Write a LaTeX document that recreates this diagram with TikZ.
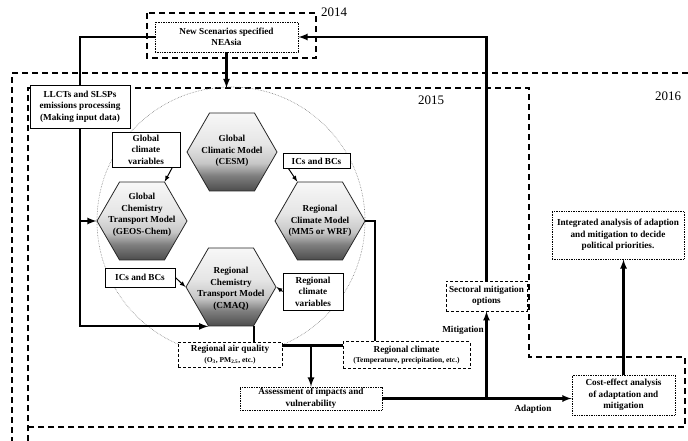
\documentclass[tikz,border=0pt]{standalone}
\usepackage{fontspec}
\setmainfont{Liberation Serif}
\usetikzlibrary{shapes.geometric, calc}

% заливка шестиугольников: снизу темнее
\pgfdeclareverticalshading{hexshade}{100bp}{color(0bp)=(black!70); color(25bp)=(black!70); color(35bp)=(black!50); color(43bp)=(black!22); color(55bp)=(black!10); color(75bp)=(black!3); color(100bp)=(black!3)}

\begin{document}
\begin{tikzpicture}[
        x=1pt, y=-1pt, % координаты в пикселях, ось y вниз
        font=\fontsize{9.2}{11.5}\selectfont\bfseries,
        hexa/.style={regular polygon, regular polygon sides=6, minimum size=90pt, inner sep=0pt,
                draw=black!85, line width=0.8pt, shading=hexshade}, % модели
        hextext/.style={align=center, inner sep=0pt},
        cell/.style={draw, align=center, fill=white, inner sep=1.5pt, line width=0.7pt}, % блоки
        dcell/.style={cell, densely dashed},
        pcell/.style={cell, densely dotted, line width=0.9pt},
        link/.style={draw, line width=2.1pt},
        linkarrow/.style={link, -latex},
        thinarrow/.style={draw, line width=1pt, -latex},
        zone/.style={draw, dash pattern=on 6pt off 4pt, line width=1.2pt}, % этапы по годам
        year/.style={font=\fontsize{13}{13}\selectfont},
    ]
    \useasboundingbox (0,0) rectangle (688,441);

    % этапы
    \draw[zone] (147,13) rectangle (316,58);
    \draw[zone] (688,73) -- (12,73) -- (12,441);
    \draw[zone] (28,441) -- (28,88) -- (529,88) -- (529,357) -- (685,357) -- (685,427) -- (28,427);
    \node[year] (y14) at (334,12) {2014};
    \node[year] (y15) at (431,100) {2015};
    \node[year] (y16) at (668,96) {2016};

    \draw[densely dotted, black!50, line width=0.6pt] (231,221) circle[radius=134pt];

    % модели
    \node[hexa] (cesm) at (232,152) {};
    \node[hextext] (cesm-t) at (232,151) {Global\\Climatic Model\\(CESM)};
    \node[hexa] (geos) at (142,221) {};
    \node[hextext] (geos-t) at (142,215) {Global\\Chemistry\\Transport Model\\(GEOS-Chem)};
    \node[hexa] (wrf) at (320,221) {};
    \node[hextext] (wrf-t) at (320,221) {Regional\\Climate Model\\(MM5 or WRF)};
    \node[hexa] (cmaq) at (231,287) {};
    \node[hextext] (cmaq-t) at (231,289) {Regional\\Chemistry\\Transport Model\\(CMAQ)};

    % блоки
    \node[pcell, minimum width=143pt, minimum height=30pt] (nsc) at (226.5,37) {New Scenarios specified\\NEAsia};
    \node[cell, minimum width=100pt, minimum height=43pt] (llct) at (80,106.5) {LLCTs and SLSPs\\emissions processing\\(Making input data)};
    \node[cell, minimum width=68pt, minimum height=35pt] (gcv) at (146,149.5) {Global\\climate\\variables};
    \node[cell, minimum width=67pt, minimum height=15pt] (icu) at (316.5,161) {ICs and BCs};
    \node[cell, minimum width=70pt, minimum height=19pt] (icl) at (140,277.5) {ICs and BCs};
    \node[cell, minimum width=60pt, minimum height=37pt] (rcv) at (313,291.5) {Regional\\climate\\variables};
    \node[dcell, minimum width=104pt, minimum height=25pt] (aq) at (230,354.5)
        {Regional air quality\\[-1pt]{\fontsize{7.5}{9}\selectfont (O\textsubscript{3}, PM\textsubscript{2.5}, etc.)}};
    \node[dcell, minimum width=127pt, minimum height=27pt] (rcl) at (406.5,355)
        {Regional climate\\[-1pt]{\fontsize{7.5}{9}\selectfont (Temperature, precipitation, etc.)}};
    \node[pcell, minimum width=142pt, minimum height=23pt] (asm) at (311,398.5) {Assessment of impacts and\\vulnerability};
    \node[dcell, minimum width=81pt, minimum height=30pt] (sec) at (486.5,296) {Sectoral mitigation\\options};
    \node[pcell, minimum width=103pt, minimum height=40pt] (cost) at (623.5,395) {Cost-effect analysis\\of adaptation and\\mitigation};
    \node[pcell, minimum width=132pt, minimum height=48pt] (ia) at (618,235) {Integrated analysis of adaption\\and mitigation to decide\\political priorities.};

    \node (mitig) at (463,330) {Mitigation};
    \node (adapt) at (533,409) {Adaption};

    % связи
    \coordinate (top15) at (226.5,88);
    \draw[linkarrow] (nsc.south) -- (top15);
    \draw[link] (nsc.west) -| (llct.north);
    \draw[linkarrow] (llct.south) |- (cmaq.corner 4);
    \draw[linkarrow] (llct.south |- geos.corner 3) -- (geos.corner 3);

    \draw[thinarrow] ([xshift=-8pt]gcv.south east) -- (geos.corner 1);
    \draw[thinarrow] ([xshift=6pt]icu.south west) -- (wrf.corner 2);
    \draw[thinarrow] (icl.east) -- (cmaq.corner 3);
    \draw[thinarrow] (rcv.west) -- (cmaq.corner 6);

    \draw[link] (cmaq.corner 5) -- (cmaq.corner 5 |- aq.north);
    \draw[link] (wrf.corner 6) -| ($(rcl.north west)!0.25!(rcl.north east)$);
    \coordinate (jl) at ($(aq.north east)!0.15!(aq.south east)$);
    \draw[link] (jl) -- (jl -| rcl.west);
    \draw[linkarrow] (asm.north |- jl) -- (asm.north);

    \draw[linkarrow] (asm.east) -- (asm.east -| cost.west);
    \draw[linkarrow] (asm.east -| sec.south) -- (sec.south);
    \draw[linkarrow] (sec.north) |- (nsc.east);
    \draw[linkarrow] (cost.north) -- (cost.north |- ia.south);

\end{tikzpicture}
\end{document}
